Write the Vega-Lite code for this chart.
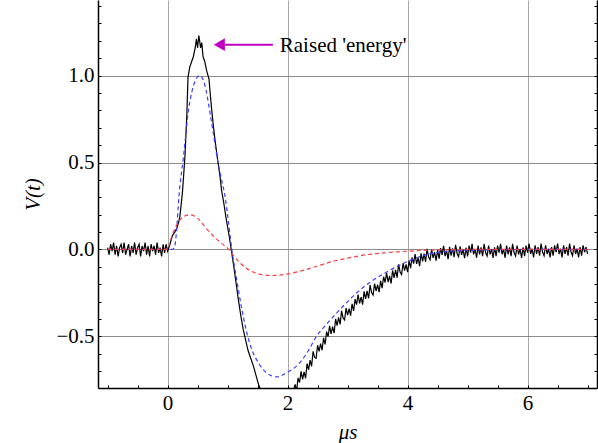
{
  "$schema": "https://vega.github.io/schema/vega-lite/v6.json",
  "width": 499,
  "height": 388,
  "autosize": {"type": "none"},
  "padding": {"left": 98, "top": 0, "right": 1, "bottom": 55},
  "background": "white",
  "config": {
    "view": {"stroke": null},
    "font": "Liberation Serif",
    "axis": {
      "labelFont": "Liberation Serif",
      "titleFont": "Liberation Serif",
      "labelFontSize": 21,
      "titleFontSize": 21,
      "labelColor": "black",
      "titleColor": "black",
      "titleFontWeight": "normal",
      "domainColor": "black",
      "domainWidth": 1.5,
      "tickColor": "black",
      "tickWidth": 1,
      "labelOverlap": false,
      "labelFlush": false
    }
  },
  "datasets": {
    "black": [
      {"t":-1.000,"v":0.01},{"t":-0.975,"v":-0.03},{"t":-0.950,"v":0.03},{"t":-0.925,"v":-0.01},{"t":-0.900,"v":0.04},{"t":-0.875,"v":-0.03},{"t":-0.850,"v":0.02},{"t":-0.825,"v":-0.04},{"t":-0.800,"v":0.01},{"t":-0.775,"v":0.03},{"t":-0.750,"v":-0.02},{"t":-0.725,"v":0.04},{"t":-0.700,"v":-0.03},{"t":-0.675,"v":0.0},{"t":-0.650,"v":0.03},{"t":-0.625,"v":-0.04},{"t":-0.600,"v":0.02},{"t":-0.575,"v":-0.02},{"t":-0.550,"v":0.04},{"t":-0.525,"v":-0.03},{"t":-0.500,"v":0.01},{"t":-0.475,"v":0.03},{"t":-0.450,"v":-0.04},{"t":-0.425,"v":0.02},{"t":-0.400,"v":-0.01},{"t":-0.375,"v":0.04},{"t":-0.350,"v":-0.03},{"t":-0.325,"v":0.02},{"t":-0.300,"v":-0.04},{"t":-0.275,"v":0.03},{"t":-0.250,"v":-0.01},{"t":-0.225,"v":0.02},{"t":-0.200,"v":-0.03},{"t":-0.175,"v":0.04},{"t":-0.150,"v":-0.02},{"t":-0.125,"v":0.01},{"t":-0.100,"v":-0.04},{"t":-0.075,"v":0.03},{"t":-0.050,"v":-0.02},{"t":-0.025,"v":0.03},{"t":0.000,"v":-0.01},
      {"t":0.04,"v":0.03},{"t":0.08,"v":0.08},{"t":0.12,"v":0.10},{"t":0.15,"v":0.12},{"t":0.18,"v":0.15},{"t":0.205,"v":0.19},{"t":0.23,"v":0.27},{"t":0.25,"v":0.34},{"t":0.27,"v":0.44},{"t":0.29,"v":0.54},{"t":0.32,"v":0.77},{"t":0.34,"v":0.99},{"t":0.37,"v":1.05},{"t":0.40,"v":1.08},{"t":0.43,"v":1.11},{"t":0.46,"v":1.16},{"t":0.48,"v":1.21},{"t":0.50,"v":1.16},{"t":0.52,"v":1.23},{"t":0.53,"v":1.21},{"t":0.55,"v":1.16},{"t":0.57,"v":1.19},{"t":0.59,"v":1.11},{"t":0.62,"v":1.08},{"t":0.65,"v":1.03},{"t":0.69,"v":0.98},{"t":0.71,"v":0.90},{"t":0.73,"v":0.82},{"t":0.76,"v":0.72},{"t":0.79,"v":0.63},{"t":0.84,"v":0.50},{"t":0.87,"v":0.43},{"t":0.90,"v":0.34},{"t":0.94,"v":0.26},{"t":0.97,"v":0.19},{"t":1.00,"v":0.13},{"t":1.03,"v":0.07},{"t":1.06,"v":0.0},
      {"t":1.10,"v":-0.09},{"t":1.14,"v":-0.19},{"t":1.18,"v":-0.29},{"t":1.22,"v":-0.38},{"t":1.26,"v":-0.46},{"t":1.30,"v":-0.52},{"t":1.34,"v":-0.58},{"t":1.38,"v":-0.62},{"t":1.43,"v":-0.67},{"t":1.47,"v":-0.72},{"t":1.51,"v":-0.77},{"t":1.55,"v":-0.81},{"t":1.60,"v":-0.85},{"t":1.70,"v":-0.90},{"t":1.80,"v":-0.92},{"t":1.90,"v":-0.91},{"t":2.00,"v":-0.87},{"t":2.05,"v":-0.84},{"t":2.10,"v":-0.81},
      {"t":2.125,"v":-0.776},{"t":2.150,"v":-0.813},{"t":2.175,"v":-0.739},{"t":2.200,"v":-0.765},{"t":2.225,"v":-0.701},{"t":2.250,"v":-0.748},{"t":2.275,"v":-0.704},{"t":2.300,"v":-0.741},{"t":2.325,"v":-0.657},{"t":2.350,"v":-0.692},{"t":2.375,"v":-0.637},{"t":2.400,"v":-0.672},{"t":2.425,"v":-0.586},{"t":2.450,"v":-0.621},{"t":2.475,"v":-0.626},{"t":2.500,"v":-0.551},{"t":2.525,"v":-0.586},{"t":2.550,"v":-0.542},{"t":2.575,"v":-0.580},{"t":2.600,"v":-0.508},{"t":2.625,"v":-0.546},{"t":2.650,"v":-0.473},{"t":2.675,"v":-0.501},{"t":2.700,"v":-0.439},{"t":2.725,"v":-0.486},{"t":2.750,"v":-0.444},{"t":2.775,"v":-0.482},{"t":2.800,"v":-0.400},{"t":2.825,"v":-0.438},{"t":2.850,"v":-0.390},{"t":2.875,"v":-0.431},{"t":2.900,"v":-0.353},{"t":2.925,"v":-0.394},{"t":2.950,"v":-0.406},{"t":2.975,"v":-0.337},{"t":3.000,"v":-0.378},{"t":3.025,"v":-0.340},{"t":3.050,"v":-0.381},{"t":3.075,"v":-0.313},{"t":3.100,"v":-0.354},{"t":3.125,"v":-0.286},{"t":3.150,"v":-0.317},{"t":3.175,"v":-0.259},{"t":3.200,"v":-0.310},{"t":3.225,"v":-0.274},{"t":3.250,"v":-0.317},{"t":3.275,"v":-0.241},{"t":3.300,"v":-0.284},{"t":3.325,"v":-0.238},{"t":3.350,"v":-0.281},{"t":3.375,"v":-0.205},{"t":3.400,"v":-0.248},{"t":3.425,"v":-0.262},{"t":3.450,"v":-0.196},{"t":3.475,"v":-0.239},{"t":3.500,"v":-0.203},{"t":3.525,"v":-0.246},{"t":3.550,"v":-0.180},{"t":3.575,"v":-0.223},{"t":3.600,"v":-0.157},{"t":3.625,"v":-0.190},{"t":3.650,"v":-0.134},{"t":3.675,"v":-0.188},{"t":3.700,"v":-0.152},{"t":3.725,"v":-0.196},{"t":3.750,"v":-0.120},{"t":3.775,"v":-0.164},{"t":3.800,"v":-0.118},{"t":3.825,"v":-0.162},{"t":3.850,"v":-0.086},{"t":3.875,"v":-0.130},{"t":3.900,"v":-0.144},{"t":3.925,"v":-0.078},{"t":3.950,"v":-0.122},{"t":3.975,"v":-0.086},{"t":4.000,"v":-0.130},{"t":4.025,"v":-0.064},{"t":4.050,"v":-0.108},{"t":4.075,"v":-0.045},{"t":4.100,"v":-0.081},{"t":4.125,"v":-0.027},{"t":4.150,"v":-0.083},{"t":4.175,"v":-0.049},{"t":4.200,"v":-0.096},{"t":4.225,"v":-0.022},{"t":4.250,"v":-0.068},{"t":4.275,"v":-0.024},{"t":4.300,"v":-0.071},{"t":4.325,"v":0.003},{"t":4.350,"v":-0.043},{"t":4.375,"v":-0.060},{"t":4.400,"v":0.001},{"t":4.425,"v":-0.048},{"t":4.450,"v":-0.016},{"t":4.475,"v":-0.065},{"t":4.500,"v":-0.004},{"t":4.525,"v":-0.053},{"t":4.550,"v":0.008},{"t":4.575,"v":-0.031},{"t":4.600,"v":0.021},{"t":4.625,"v":-0.038},{"t":4.650,"v":-0.007},{"t":4.675,"v":-0.056},{"t":4.700,"v":0.015},{"t":4.725,"v":-0.035},{"t":4.750,"v":0.006},{"t":4.775,"v":-0.044},{"t":4.800,"v":0.027},{"t":4.825,"v":-0.023},{"t":4.850,"v":-0.042},{"t":4.875,"v":0.018},{"t":4.900,"v":-0.031},{"t":4.925,"v":-0.001},{"t":4.950,"v":-0.050},{"t":4.975,"v":0.010},{"t":5.000,"v":-0.040},
      {"t":5.025,"v":0.022},{"t":5.050,"v":-0.018},{"t":5.075,"v":0.032},{"t":5.100,"v":-0.028},{"t":5.125,"v":0.002},{"t":5.150,"v":-0.048},{"t":5.175,"v":0.022},{"t":5.200,"v":-0.028},{"t":5.225,"v":0.012},{"t":5.250,"v":-0.038},{"t":5.275,"v":0.032},{"t":5.300,"v":-0.018},{"t":5.325,"v":-0.038},{"t":5.350,"v":0.022},{"t":5.375,"v":-0.028},{"t":5.400,"v":0.002},{"t":5.425,"v":-0.048},{"t":5.450,"v":0.012},{"t":5.475,"v":-0.038},{"t":5.500,"v":0.022},{"t":5.525,"v":-0.018},{"t":5.550,"v":0.032},{"t":5.575,"v":-0.028},{"t":5.600,"v":0.002},{"t":5.625,"v":-0.048},{"t":5.650,"v":0.022},{"t":5.675,"v":-0.028},{"t":5.700,"v":0.012},{"t":5.725,"v":-0.038},{"t":5.750,"v":0.032},{"t":5.775,"v":-0.018},{"t":5.800,"v":-0.038},{"t":5.825,"v":0.022},{"t":5.850,"v":-0.028},{"t":5.875,"v":0.002},{"t":5.900,"v":-0.048},{"t":5.925,"v":0.012},{"t":5.950,"v":-0.038},{"t":5.975,"v":0.022},{"t":6.000,"v":-0.018},{"t":6.025,"v":0.034},{"t":6.050,"v":-0.026},{"t":6.075,"v":0.004},{"t":6.100,"v":-0.046},{"t":6.125,"v":0.024},{"t":6.150,"v":-0.026},{"t":6.175,"v":0.014},{"t":6.200,"v":-0.036},{"t":6.225,"v":0.034},{"t":6.250,"v":-0.016},{"t":6.275,"v":-0.036},{"t":6.300,"v":0.024},{"t":6.325,"v":-0.026},{"t":6.350,"v":0.004},{"t":6.375,"v":-0.046},{"t":6.400,"v":0.014},{"t":6.425,"v":-0.036},{"t":6.450,"v":0.024},{"t":6.475,"v":-0.016},{"t":6.500,"v":0.034},{"t":6.525,"v":-0.026},{"t":6.550,"v":0.004},{"t":6.575,"v":-0.046},{"t":6.600,"v":0.024},{"t":6.625,"v":-0.026},{"t":6.650,"v":0.014},{"t":6.675,"v":-0.036},{"t":6.700,"v":0.034},{"t":6.725,"v":-0.016},{"t":6.750,"v":-0.036},{"t":6.775,"v":0.024},{"t":6.800,"v":-0.026},{"t":6.825,"v":0.004},{"t":6.850,"v":-0.046},{"t":6.875,"v":0.014},{"t":6.900,"v":-0.036},{"t":6.925,"v":0.024},{"t":6.950,"v":-0.016},{"t":6.975,"v":0.014},{"t":7.000,"v":-0.026}
    ],
    "blue": [
      {"t":-1.0,"v":0},{"t":0.0,"v":0},{"t":0.08,"v":0},{"t":0.12,"v":0.02},{"t":0.15,"v":0.11},{"t":0.19,"v":0.31},{"t":0.26,"v":0.52},{"t":0.30,"v":0.65},{"t":0.34,"v":0.78},{"t":0.40,"v":0.90},{"t":0.46,"v":0.97},{"t":0.53,"v":1.00},{"t":0.60,"v":0.97},{"t":0.65,"v":0.90},{"t":0.70,"v":0.80},{"t":0.77,"v":0.65},{"t":0.84,"v":0.50},{"t":0.90,"v":0.40},{"t":0.955,"v":0.31},{"t":1.01,"v":0.17},{"t":1.07,"v":0.0},{"t":1.15,"v":-0.17},{"t":1.23,"v":-0.33},{"t":1.30,"v":-0.45},{"t":1.36,"v":-0.53},{"t":1.42,"v":-0.59},{"t":1.51,"v":-0.65},{"t":1.65,"v":-0.71},{"t":1.82,"v":-0.733},{"t":1.98,"v":-0.71},{"t":2.2,"v":-0.653},{"t":2.35,"v":-0.58},{"t":2.48,"v":-0.50},{"t":2.65,"v":-0.43},{"t":2.82,"v":-0.365},{"t":3.0,"v":-0.30},{"t":3.2,"v":-0.235},{"t":3.37,"v":-0.19},{"t":3.55,"v":-0.15},{"t":3.7,"v":-0.12},{"t":3.9,"v":-0.085},{"t":4.1,"v":-0.055},{"t":4.37,"v":-0.025},{"t":4.7,"v":-0.01},{"t":5.04,"v":-0.005},{"t":6.0,"v":0},{"t":7.0,"v":0}
    ],
    "red": [
      {"t":-1.0,"v":0},{"t":0.0,"v":0},{"t":0.03,"v":0.03},{"t":0.07,"v":0.075},{"t":0.15,"v":0.14},{"t":0.25,"v":0.185},{"t":0.37,"v":0.20},{"t":0.5,"v":0.18},{"t":0.6,"v":0.14},{"t":0.7,"v":0.10},{"t":0.8,"v":0.065},{"t":0.9,"v":0.035},{"t":1.02,"v":0.0},{"t":1.1,"v":-0.035},{"t":1.2,"v":-0.075},{"t":1.3,"v":-0.105},{"t":1.4,"v":-0.126},{"t":1.55,"v":-0.143},{"t":1.73,"v":-0.15},{"t":1.9,"v":-0.146},{"t":2.2,"v":-0.126},{"t":2.5,"v":-0.095},{"t":2.76,"v":-0.068},{"t":3.0,"v":-0.05},{"t":3.32,"v":-0.03},{"t":3.6,"v":-0.02},{"t":3.87,"v":-0.013},{"t":4.2,"v":-0.006},{"t":4.6,"v":-0.002},{"t":5.0,"v":0},{"t":7.0,"v":0}
    ],
    "arrow": [{"t1":0.95,"t2":1.755,"v":1.178}],
    "head": [{"t":0.863,"v":1.178}],
    "note": [{"t":1.87,"v":1.17,"label":"Raised 'energy'"}]
  },
  "layer": [
    {
      "data": {"name": "black"},
      "mark": {"type": "line", "color": "black", "strokeWidth": 1.2, "clip": true},
      "encoding": {
        "x": {
          "field": "t", "type": "quantitative",
          "scale": {"domain": [-1.16, 7.157], "nice": false, "zero": false},
          "axis": {
            "orient": "bottom",
            "values": [-1,-0.5,0,0.5,1,1.5,2,2.5,3,3.5,4,4.5,5,5.5,6,6.5,7],
            "tickSize": -3,
            "labelPadding": 7,
            "labelExpr": "datum.value % 2 === 0 ? format(datum.value, 'd') : ''",
            "grid": true,
            "gridColor": "#a8a8a8",
            "gridWidth": 1,
            "gridOpacity": {"condition": {"test": "datum.value % 2 === 0", "value": 1}, "value": 0},
            "title": "μs",
            "titleFontStyle": "italic",
            "titlePadding": 8
          }
        },
        "y": {
          "field": "v", "type": "quantitative",
          "scale": {"domain": [-0.797, 1.435], "nice": false, "zero": false},
          "axis": {
            "orient": "left",
            "values": [-0.7,-0.6,-0.5,-0.4,-0.3,-0.2,-0.1,0,0.1,0.2,0.3,0.4,0.5,0.6,0.7,0.8,0.9,1.0,1.1,1.2,1.3,1.4],
            "tickSize": -3,
            "labelPadding": 7,
            "labelExpr": "abs(datum.value*2 - round(datum.value*2)) < 1e-6 ? format(datum.value, '.1f') : ''",
            "grid": true,
            "gridColor": "#8c8c8c",
            "gridWidth": 1,
            "gridOpacity": {"condition": {"test": "abs(datum.value*2 - round(datum.value*2)) < 1e-6", "value": 1}, "value": 0},
            "title": "V(t)",
            "titleFontStyle": "italic",
            "titlePadding": 12
          }
        }
      }
    },
    {
      "data": {"name": "blue"},
      "mark": {"type": "line", "color": "#3c3cff", "strokeWidth": 1.2, "strokeDash": [4, 3], "interpolate": "monotone", "clip": true},
      "encoding": {
        "x": {"field": "t", "type": "quantitative", "axis": {"orient": "top", "labels": false, "ticks": false, "grid": false, "domain": false, "title": null}},
        "y": {"field": "v", "type": "quantitative", "axis": {"orient": "right", "values": [-0.7,-0.6,-0.5,-0.4,-0.3,-0.2,-0.1,0,0.1,0.2,0.3,0.4,0.5,0.6,0.7,0.8,0.9,1.0,1.1,1.2,1.3,1.4], "tickSize": -3, "labels": false, "grid": false, "title": null}}
      }
    },
    {
      "data": {"name": "red"},
      "mark": {"type": "line", "color": "#ff3c3c", "strokeWidth": 1.2, "strokeDash": [4, 3], "interpolate": "monotone", "clip": true},
      "encoding": {
        "x": {"field": "t", "type": "quantitative", "axis": null},
        "y": {"field": "v", "type": "quantitative", "axis": null}
      }
    },
    {
      "data": {"name": "arrow"},
      "mark": {"type": "rule", "color": "#c000c0", "strokeWidth": 2},
      "encoding": {
        "x": {"field": "t1", "type": "quantitative", "axis": null},
        "x2": {"field": "t2"},
        "y": {"field": "v", "type": "quantitative", "axis": null}
      }
    },
    {
      "data": {"name": "head"},
      "mark": {"type": "point", "shape": "triangle-left", "filled": true, "color": "#c000c0", "size": 160, "opacity": 1},
      "encoding": {
        "x": {"field": "t", "type": "quantitative", "axis": null},
        "y": {"field": "v", "type": "quantitative", "axis": null}
      }
    },
    {
      "data": {"name": "note"},
      "mark": {"type": "text", "align": "left", "baseline": "middle", "font": "Liberation Serif", "fontSize": 21, "color": "black"},
      "encoding": {
        "x": {"field": "t", "type": "quantitative", "axis": null},
        "y": {"field": "v", "type": "quantitative", "axis": null},
        "text": {"field": "label"}
      }
    }
  ]
}
